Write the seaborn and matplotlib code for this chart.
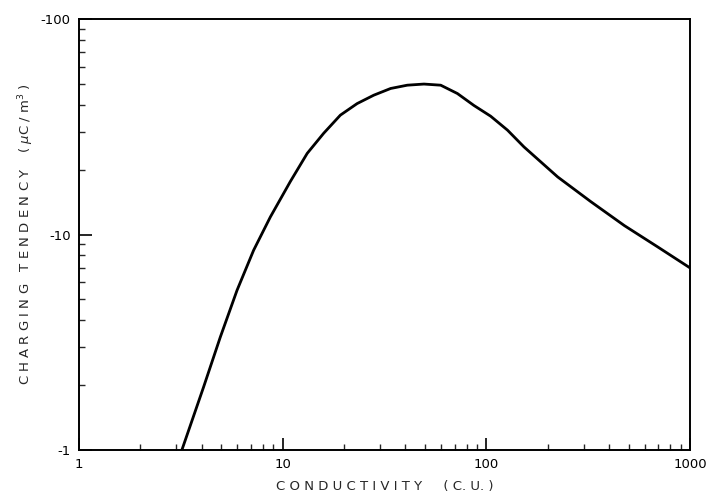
import numpy as np
import pandas as pd
import matplotlib
matplotlib.use("Agg")
import matplotlib.pyplot as plt
import seaborn as sns
from matplotlib.ticker import FixedLocator, LogLocator, NullFormatter

# Data (conductivity in C.U., charging tendency in uC/m^3)
conductivity = [3.2, 4.09, 4.94, 5.97, 7.2, 8.7, 10.9, 13.2, 15.9, 19.2, 23.2, 28.0,
                33.9, 40.9, 49.4, 59.7, 72.1, 86.9, 105.0, 127.0, 153.0, 224.0,
                326.0, 476.0, 695.0, 1000.0]
charging = [-1.0, -1.96, -3.34, -5.51, -8.45, -12.06, -17.6, -23.8, -29.5, -35.8,
            -40.5, -44.3, -47.6, -49.3, -49.9, -49.3, -45.1, -39.7, -35.4, -30.5,
            -25.5, -18.5, -14.2, -11.0, -8.75, -7.0]

x_ticks = [1, 10, 100, 1000]
x_tick_labels = ["1", "10", "100", "1000"]
y_ticks = [1, 10, 100]
y_tick_labels = ["-1", "-10", "-100"]

df = pd.DataFrame({"conductivity": conductivity, "magnitude": np.abs(charging)})

sns.set_style("white")
plt.rcParams['font.family'] = ['DejaVu Sans']

fig = plt.figure(figsize=(7.07, 4.97), dpi=100)
ax = fig.add_axes([79 / 707, 1 - 450 / 497, (690 - 79) / 707, (450 - 19) / 497])

sns.lineplot(data=df, x="conductivity", y="magnitude", sort=False, color="black",
             linewidth=2.0, ax=ax)

ax.set_xscale("log")
ax.set_yscale("log")
ax.set_xlim(1, 1000)
ax.set_ylim(1, 100)

ax.xaxis.set_major_locator(FixedLocator(x_ticks))
ax.set_xticklabels(x_tick_labels)
ax.yaxis.set_major_locator(FixedLocator(y_ticks))
ax.set_yticklabels(y_tick_labels)
ax.xaxis.set_minor_locator(LogLocator(base=10, subs=np.arange(2, 10)))
ax.yaxis.set_minor_locator(LogLocator(base=10, subs=np.arange(2, 10)))
ax.xaxis.set_minor_formatter(NullFormatter())
ax.yaxis.set_minor_formatter(NullFormatter())

ax.tick_params(axis="both", which="both", bottom=True, left=True, top=False, right=False)
ax.tick_params(axis="both", which="major", direction="in", length=9, width=1.2,
               labelsize=9.5, colors="black", pad=6)
ax.tick_params(axis="both", which="minor", direction="in", length=4.5, width=1.0)

for s in ax.spines.values():
    s.set_linewidth(1.4)
    s.set_color("black")

ax.set_xlabel("C O N D U C T I V I T Y     ( C. U. )", fontsize=9.5, labelpad=6)
ax.set_ylabel("C H A R G I N G   T E N D E N C Y    ( $\\mu$C / m$^3$ )", fontsize=9.5,
              labelpad=3)

fig.savefig("out.png", dpi=100, facecolor="white")
